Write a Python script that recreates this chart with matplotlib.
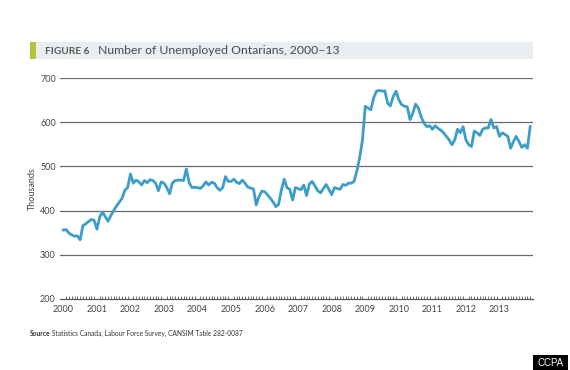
import matplotlib
matplotlib.use("Agg")
import matplotlib.pyplot as plt
from matplotlib.patches import Rectangle
import numpy as np

years = list(range(2000, 2014))
unemployed = {
    2000: [356, 357, 349, 345, 342, 343, 334, 366, 370, 375, 380, 378],
    2001: [358, 385, 397, 386, 376, 389, 400, 410, 419, 428, 446, 452],
    2002: [483, 462, 469, 465, 458, 468, 463, 470, 468, 462, 445, 465],
    2003: [462, 452, 438, 462, 468, 469, 469, 468, 494, 463, 452, 453],
    2004: [452, 450, 456, 465, 458, 464, 462, 452, 446, 452, 477, 466],
    2005: [466, 471, 464, 461, 469, 462, 453, 451, 449, 413, 432, 444],
    2006: [443, 436, 428, 420, 409, 414, 447, 471, 452, 448, 424, 452],
    2007: [450, 447, 458, 434, 460, 466, 456, 445, 440, 450, 459, 448],
    2008: [436, 452, 450, 448, 459, 457, 462, 462, 466, 490, 520, 560],
    2009: [636, 632, 628, 655, 670, 672, 670, 671, 643, 637, 658, 670],
    2010: [651, 640, 636, 635, 606, 620, 641, 632, 612, 598, 590, 592],
    2011: [584, 592, 586, 582, 576, 568, 560, 549, 560, 584, 576, 590],
    2012: [560, 549, 545, 580, 576, 570, 584, 587, 587, 606, 587, 590],
    2013: [568, 576, 572, 568, 541, 556, 568, 556, 543, 549, 541, 590],
}
y_ticks = [200, 300, 400, 500, 600, 700]
title_tag = "FIGURE 6"
title_text = "Number of Unemployed Ontarians, 2000–13"
y_label = "Thousands"
source_tag = "Source"
source_text = "Statistics Canada, Labour Force Survey, CANSIM Table 282-0087"
credit = "CCPA"

values = []
for y in years:
    values.extend(unemployed[y])
values = np.array(values, dtype=float)
t = np.array([y + m / 12.0 for y in years for m in range(12)])

plt.rcParams['font.family'] = ['Lato', 'DejaVu Sans']

W, H = 570, 370
fig = plt.figure(figsize=(W / 100, H / 100), dpi=100)
fig.patch.set_facecolor('white')

def fx(px):
    return px / W

def fy(py):
    return 1 - py / H

# title band
fig.patches.append(Rectangle((fx(36), fy(59)), fx(533) - fx(36), fy(42) - fy(59),
                             transform=fig.transFigure, facecolor='#e9edf0', edgecolor='none', zorder=0))
fig.patches.append(Rectangle((fx(30), fy(59)), fx(36) - fx(30), fy(42) - fy(59),
                             transform=fig.transFigure, facecolor='#b5c43a', edgecolor='none', zorder=1))
fig.text(fx(45), fy(51), title_tag, fontsize=7.3, fontweight='bold', color='#5a5a5a',
         va='center', ha='left')
fig.text(fx(98), fy(51), title_text, fontsize=8.8, color='#4a4a4a', va='center', ha='left')

left, right, top, bottom = 60, 533, 78, 299
ax = fig.add_axes([fx(left), fy(bottom), fx(right) - fx(left), fy(top) - fy(bottom)])
ax.plot(t, values, color='#3d9dc8', lw=2.0, solid_joinstyle='round', zorder=3)
ax.set_xlim(1999.9, 2014.0)
ax.set_ylim(200, 700)
ax.set_yticks(y_ticks)
ax.set_yticklabels([str(v) for v in y_ticks], fontsize=6.5, color='#444444')
for v in y_ticks[1:]:
    ax.axhline(v, color='#6a6a6a', lw=0.9, zorder=1)
for s in ['top', 'right', 'left']:
    ax.spines[s].set_visible(False)
ax.spines['bottom'].set_color('#555555')
ax.spines['bottom'].set_linewidth(0.9)
ax.tick_params(axis='y', length=0, pad=3)
ax.set_xticks(years)
ax.set_xticklabels([str(y) for y in years], fontsize=6.5, color='#444444')
ax.set_xticks(t, minor=True)
ax.tick_params(axis='x', which='major', length=0, pad=4)
ax.tick_params(axis='x', which='minor', direction='in', length=2.2, width=0.6, color='#555555')
ax.set_ylabel(y_label, fontsize=6.5, color='#444444', labelpad=2)
ax.set_facecolor('white')

fig.text(fx(30), fy(333), source_tag, fontsize=4.8, fontweight='bold', color='#333333',
         va='center', ha='left')
fig.text(fx(52), fy(333), source_text, fontsize=4.8, color='#333333', va='center', ha='left')

fig.patches.append(Rectangle((fx(533), fy(370)), fx(568) - fx(533), fy(355) - fy(370),
                             transform=fig.transFigure, facecolor='black', edgecolor='none', zorder=1))
fig.text(fx(550.5), fy(362.5), credit, fontsize=7, color='white', va='center', ha='center',
         family=['Liberation Sans', 'DejaVu Sans'], zorder=2)

fig.savefig('out.png', dpi=100, facecolor='white')
